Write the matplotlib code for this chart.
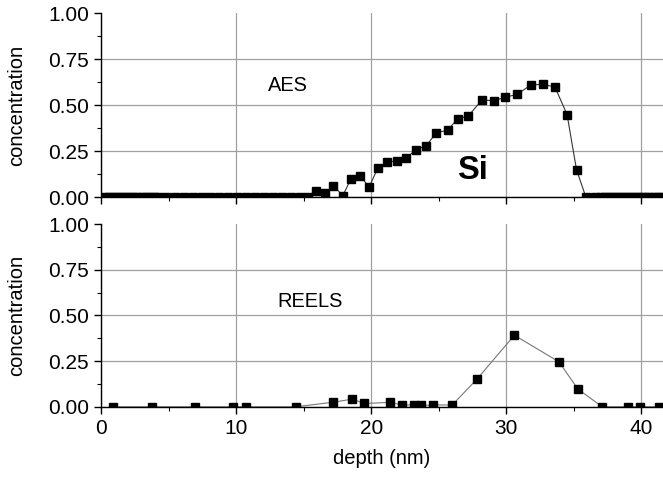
import numpy as np
import matplotlib
matplotlib.use("Agg")
import matplotlib.pyplot as plt
from matplotlib.ticker import MultipleLocator

plt.rcParams['font.family'] = ['Liberation Sans', 'DejaVu Sans']

# AES depth profile (Si)
aes_depth = [0.3, 0.6, 0.9, 1.2, 1.5, 1.8, 2.1, 2.4, 2.7, 3.0, 3.3, 3.6, 3.9, 4.2,
             4.8, 5.48, 6.15, 6.8, 7.46, 8.1, 8.76, 9.43, 10.1, 10.7, 11.4, 12.05,
             12.7, 13.4, 14.05, 14.7, 15.36,
             15.93, 16.6, 17.2, 17.9, 18.5, 19.2, 19.85, 20.5, 21.2, 21.9, 22.6,
             23.3, 24.07, 24.8, 25.65, 26.4, 27.2, 28.2, 29.06, 29.9, 30.8, 31.8,
             32.7, 33.6, 34.5, 35.2, 35.9, 36.6,
             37.0, 37.3, 37.6, 37.9, 38.2, 38.5, 38.8, 39.1, 39.4, 39.7, 40.0,
             40.3, 40.6, 40.9, 41.2, 41.5]
aes_conc = [0.0] * 31 + \
           [0.036, 0.022, 0.064, 0.01, 0.10, 0.116, 0.056, 0.162, 0.19, 0.20, 0.213,
            0.26, 0.28, 0.35, 0.365, 0.427, 0.443, 0.53, 0.525, 0.544, 0.56, 0.61,
            0.615, 0.60, 0.45, 0.15, 0.0, 0.0] + \
           [0.0] * 16

# REELS depth profile
reels_depth = [0.92, 3.75, 6.96, 9.75, 10.7, 14.4, 17.2, 18.6, 19.5, 21.36, 22.3,
               23.2, 23.7, 24.6, 26.0, 27.85, 30.6, 33.9, 35.3, 37.1, 38.99, 39.9, 41.3]
reels_conc = [0.0, 0.0, 0.0, 0.0, 0.0, 0.0, 0.025, 0.042, 0.018, 0.024, 0.01,
              0.01, 0.007, 0.01, 0.01, 0.153, 0.392, 0.246, 0.097, 0.0, 0.0, 0.0, 0.0]

y_ticks = [0.0, 0.25, 0.5, 0.75, 1.0]
x_ticks = [0, 10, 20, 30, 40]


def style_axis(ax):
    ax.set_xlim(0, 41.6)
    ax.set_ylim(0, 1.0)
    ax.set_xticks(x_ticks)
    ax.set_yticks(y_ticks)
    ax.set_yticklabels(['%.2f' % v for v in y_ticks])
    ax.xaxis.set_minor_locator(MultipleLocator(5))
    ax.yaxis.set_minor_locator(MultipleLocator(0.125))
    ax.tick_params(which='major', direction='out', length=5, width=1, labelsize=15)
    ax.tick_params(which='minor', direction='out', length=3, width=0.8)
    ax.spines['top'].set_visible(False)
    ax.spines['right'].set_visible(False)
    for s in ('left', 'bottom'):
        ax.spines[s].set_linewidth(1.0)
    ax.grid(True, which='major', color='#a0a0a0', linewidth=0.9)
    # no gridline along the top edge
    ax.yaxis.get_gridlines()[-1].set_visible(False)
    ax.set_axisbelow(True)
    ax.set_ylabel('concentration', fontsize=14.5)
    ax.yaxis.set_label_coords(-0.133, 0.5)


fig = plt.figure(figsize=(6.63, 4.78), dpi=100)
ax1 = fig.add_axes([0.1523, 0.587, 0.8477, 0.385])
ax2 = fig.add_axes([0.1523, 0.149, 0.8477, 0.382])

ax1.plot(aes_depth, aes_conc, '-', color='#333333', linewidth=0.8,
         marker='s', markersize=5.8, markerfacecolor='black', markeredgecolor='black')
ax2.plot(reels_depth, reels_conc, '-', color='#777777', linewidth=0.8,
         marker='s', markersize=5.8, markerfacecolor='black', markeredgecolor='black')

style_axis(ax1)
style_axis(ax2)
ax1.tick_params(labelbottom=False)

ax1.text(13.8, 0.61, 'AES', fontsize=14.4, ha='center', va='center')
ax1.text(27.5, 0.145, 'Si', fontsize=23.5, fontweight='bold', ha='center', va='center')
ax2.text(15.5, 0.574, 'REELS', fontsize=14.4, ha='center', va='center')

ax2.set_xlabel('depth (nm)', fontsize=14.5, labelpad=8)

fig.savefig('out.png', dpi=100)
